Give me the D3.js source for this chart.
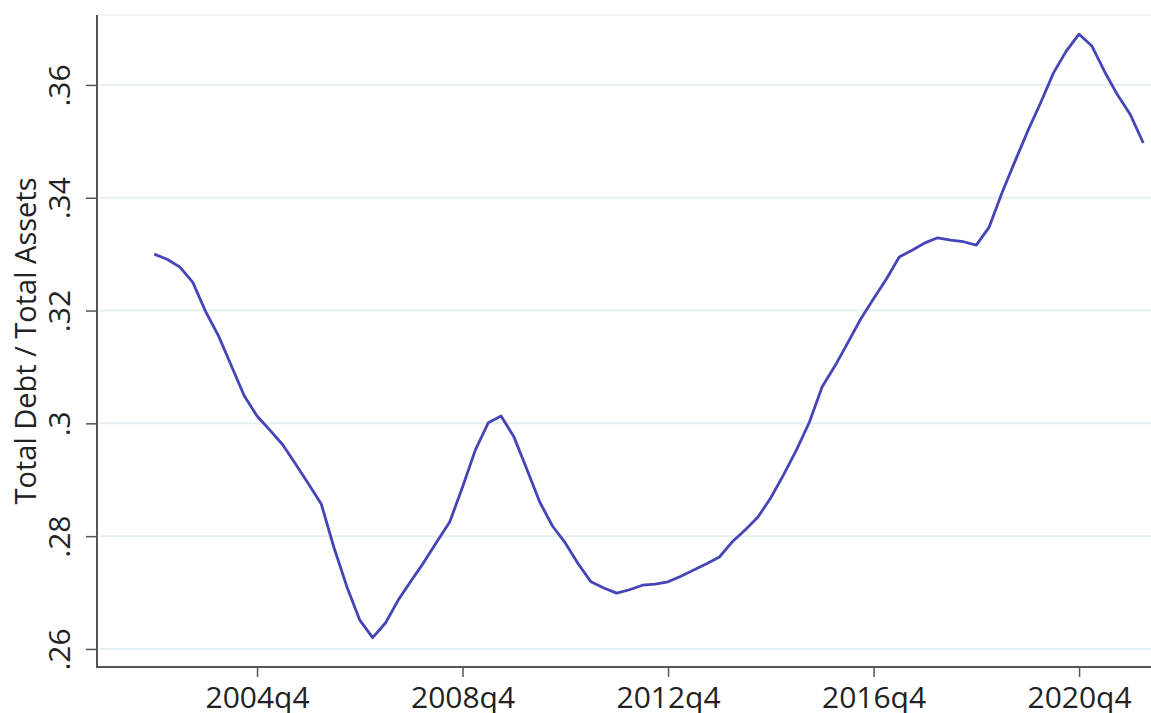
<!DOCTYPE html>
<html>
<head>
<meta charset="utf-8">
<script src="https://cdn.jsdelivr.net/npm/d3@7"></script>
<style>
	body { margin: 0; background: #ffffff; }
	svg { display: block; }
	text { font-family: "Open Sans", sans-serif; fill: #222222; }
</style>
</head>
<body>
<div id="chart"></div>
<script>

// first quarter of the series, one value per quarter after it
const firstQuarter = '2002q4';

const debtRatio = [
	0.3300, 0.3291, 0.3277, 0.3250, 0.3198, 0.3155, 0.3102, 0.3049,
	0.3013, 0.2988, 0.2962, 0.2928, 0.2893, 0.2857, 0.2779, 0.2710,
	0.2651, 0.2620, 0.2646, 0.2687, 0.2721, 0.2754, 0.2790, 0.2825,
	0.2887, 0.2953, 0.3001, 0.3013, 0.2976, 0.2919, 0.2861, 0.2818,
	0.2788, 0.2751, 0.2719, 0.2708, 0.2699, 0.2705, 0.2713, 0.2715,
	0.2719, 0.2729, 0.2740, 0.2751, 0.2763, 0.2790, 0.2811, 0.2834,
	0.2868, 0.2909, 0.2953, 0.3002, 0.3065, 0.3102, 0.3143, 0.3185,
	0.3221, 0.3256, 0.3295, 0.3307, 0.3320, 0.3329, 0.3325, 0.3322,
	0.3316, 0.3348, 0.3409, 0.3464, 0.3518, 0.3568, 0.3621, 0.3660,
	0.3690, 0.3669, 0.3623, 0.3582, 0.3547, 0.3497
];

const xTickLabels = ['2004q4', '2008q4', '2012q4', '2016q4', '2020q4'];
const yTickValues = [0.26, 0.28, 0.30, 0.32, 0.34, 0.36];
const yTitle = 'Total Debt / Total Assets';

// quarter label -> running quarter number
function quarterIndex(label)
{
	let parts = label.split('q');
	return +parts[0] * 4 + (+parts[1] - 1);
}

let width = 1151;
let height = 713;

let start = quarterIndex(firstQuarter);
let points = debtRatio.map((v, i) => ({ q: start + i, v: v }));

let xScale = d3.scaleLinear()
	.domain([quarterIndex('2004q4') - 12.46, quarterIndex('2004q4') + 69.6])
	.range([97, 1151]);

let yScale = d3.scaleLinear()
	.domain([0.2568, 0.3724])
	.range([667, 15]);

let svg = d3.select('#chart').append('svg')
	.attr('width', width)
	.attr('height', height);

// grid lines
svg.append('g')
	.selectAll('line')
	.data(yTickValues)
	.enter()
	.append('line')
	.attr('x1', xScale.range()[0] + 3)
	.attr('x2', width)
	.attr('y1', d => yScale(d))
	.attr('y2', d => yScale(d))
	.style('stroke', '#e6eff1')
	.style('stroke-width', 2);

// faint top border of the plot region
svg.append('line')
	.attr('x1', xScale.range()[0] + 3)
	.attr('x2', width)
	.attr('y1', yScale.range()[1])
	.attr('y2', yScale.range()[1])
	.style('stroke', '#f1f5f6')
	.style('stroke-width', 2);

let fmtY = d => d3.format('.2f')(d).replace(/^0/, '').replace(/0$/, '');

let yAxis = d3.axisLeft(yScale)
	.tickValues(yTickValues)
	.tickSize(11)
	.tickPadding(6)
	.tickFormat(fmtY);

let gy = svg.append('g')
	.attr('transform', `translate(${xScale.range()[0]}, 0)`)
	.call(yAxis);

gy.select('.domain')
	.attr('d', `M0,${yScale.range()[1]}V${yScale.range()[0]}`)
	.style('stroke', '#555555')
	.style('stroke-width', 2);

gy.selectAll('.tick line')
	.style('stroke', '#555555')
	.style('stroke-width', 1.5);

gy.selectAll('.tick text')
	.attr('x', null)
	.attr('dy', null)
	.attr('transform', 'translate(-27, 0) rotate(-90)')
	.attr('text-anchor', 'middle')
	.style('font-size', '30px')
	.style('fill', '#222222');

let xAxis = d3.axisBottom(xScale)
	.tickValues(xTickLabels.map(quarterIndex))
	.tickSize(10)
	.tickPadding(2)
	.tickFormat((d, i) => xTickLabels[i]);

let gx = svg.append('g')
	.attr('transform', `translate(0, ${yScale.range()[0]})`)
	.call(xAxis);

gx.select('.domain')
	.attr('d', `M${xScale.range()[0] - 1},0H${width}`)
	.style('stroke', '#555555')
	.style('stroke-width', 2);

gx.selectAll('.tick line')
	.style('stroke', '#555555')
	.style('stroke-width', 1.5);

gx.selectAll('.tick text')
	.attr('dy', '0.95em')
	.style('font-size', '30px')
	.style('fill', '#222222');

svg.selectAll('.domain').attr('fill', 'none');
svg.selectAll('.tick text').attr('font-family', null);

// axis title
svg.append('text')
	.attr('transform', `translate(36, 341) rotate(-90)`)
	.attr('text-anchor', 'middle')
	.style('font-size', '29px')
	.text(yTitle);

let line = d3.line()
	.x(d => xScale(d.q))
	.y(d => yScale(d.v));

svg.append('path')
	.datum(points)
	.attr('d', line)
	.style('fill', 'none')
	.style('stroke', '#4545b8')
	.style('stroke-width', 2.8)
	.style('stroke-linejoin', 'round');

</script>
</body>
</html>
